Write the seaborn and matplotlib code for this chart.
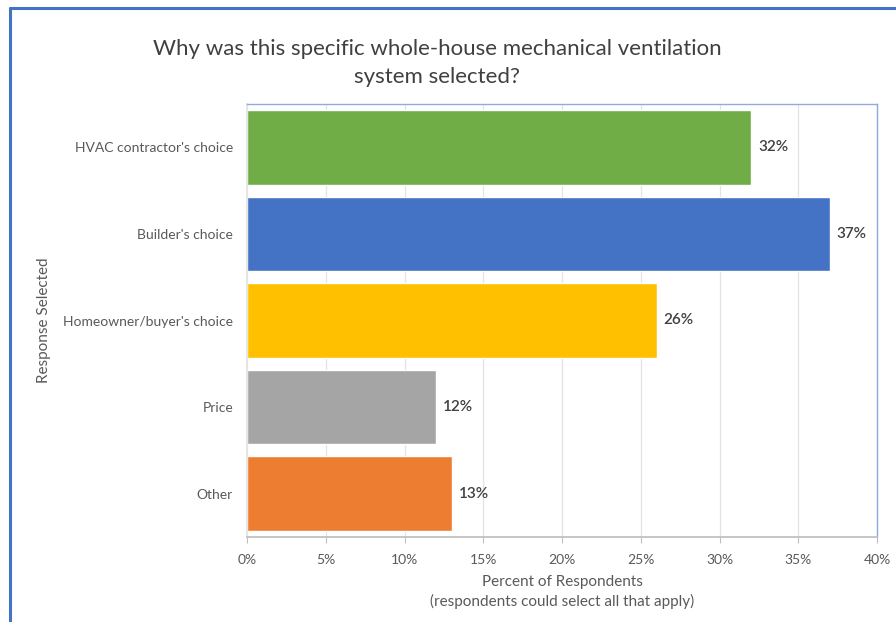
### Why was this ventilation system selected - horizontal bar chart

import seaborn as sns
import matplotlib.pyplot as plt
import matplotlib.lines as mlines
import pandas as pd

sns.set_theme(style="white")
plt.rcParams['font.family'] = ['Lato', 'DejaVu Sans']

# data
responses = ["HVAC contractor's choice", "Builder's choice",
             "Homeowner/buyer's choice", "Price", "Other"]
percents = [32, 37, 26, 12, 13]
bar_colors = ["#70AD47", "#4472C4", "#FFC000", "#A5A5A5", "#ED7D31"]
x_ticks = [0, 5, 10, 15, 20, 25, 30, 35, 40]

df = pd.DataFrame({"response": responses, "percent": percents})

text_grey = "#595959"
frame_blue = "#8FAADC"

fig = plt.figure(figsize=(8.96, 6.22), dpi=100)
ax = fig.add_axes([247 / 896, 85 / 622, 630 / 896, 433 / 622])

sns.barplot(
    data=df,
    x="percent",
    y="response",
    hue="response",
    palette=bar_colors,
    order=responses,
    orient="h",
    width=0.86,
    legend=False,
    saturation=1,
    ax=ax,
)

# value labels at the end of each bar
for cont in ax.containers:
    ax.bar_label(cont, fmt="%d%%", padding=5, fontsize=11,
                 color="#404040", fontweight="semibold")

ax.set_xlim(0, 40)
ax.set_ylim(4.5, -0.5)
ax.set_xticks(x_ticks)
ax.set_xticklabels([f"{t}%" for t in x_ticks])
ax.tick_params(axis="x", colors=text_grey, labelsize=10, length=4,
               width=0.8, direction="out", pad=8, bottom=True, color="#BFBFBF")
ax.tick_params(axis="y", colors=text_grey, labelsize=10, length=0, pad=10)

# vertical gridlines behind the bars
ax.set_axisbelow(True)
ax.grid(axis="x", color="#E3E3E3", linewidth=0.9)
ax.grid(axis="y", visible=False)

for side in ["top", "right"]:
    ax.spines[side].set_color(frame_blue)
    ax.spines[side].set_linewidth(1.0)
ax.spines["left"].set_color("#E3E3E3")
ax.spines["bottom"].set_color("#BFBFBF")

ax.set_xlabel("Percent of Respondents\n(respondents could select all that apply)",
              fontsize=11, color=text_grey, labelpad=7, linespacing=1.4)
ax.set_ylabel("Response Selected", fontsize=11, color=text_grey)
ax.yaxis.set_label_coords(-196 / 630, 0.5)

fig.text(437 / 896, 1 - 63 / 622,
         "Why was this specific whole-house mechanical ventilation\nsystem selected?",
         ha="center", va="center", fontsize=16, color="#404040", linespacing=1.5)

# outer slide frame (left and top edges visible)
fig.add_artist(mlines.Line2D([9.5 / 896, 9.5 / 896], [0, 1 - 8 / 622],
                             color="#4472C4", linewidth=2.2))
fig.add_artist(mlines.Line2D([9.5 / 896, 1], [1 - 8 / 622, 1 - 8 / 622],
                             color="#4472C4", linewidth=2.2))

fig.savefig("out.png", dpi=100, facecolor="white")
